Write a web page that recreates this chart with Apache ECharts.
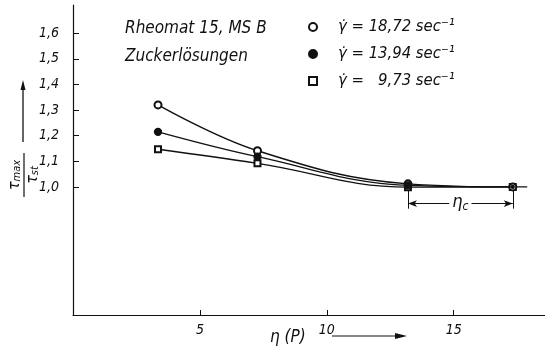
<!DOCTYPE html>
<html>
<head>
<meta charset="utf-8">
<script src="https://cdn.jsdelivr.net/npm/echarts@6/dist/echarts.min.js"></script>
<style>
    html, body { margin: 0; padding: 0; background: #fff; }
    #chart { width: 545px; height: 358px; }
</style>
</head>
<body>
<div id="chart"></div>
<script>
    // viscosity eta (P) of the measured sugar solutions
    const eta = [3.35, 7.27, 13.2, 17.33];
    // tau_max / tau_st for each shear rate
    const ratioHigh = [1.32, 1.141, 1.012, 1.0];   // 18,72 sec-1
    const ratioMid = [1.215, 1.118, 1.006, 1.0];   // 13,94 sec-1
    const ratioLow = [1.147, 1.092, 0.999, 1.0];   // 9,73 sec-1
    const curveTail = [[17.33, 1.0], [17.9, 1.0]];
    const shearRates = ['18,72', '13,94', '9,73'];
    const yTicks = [1.0, 1.1, 1.2, 1.3, 1.4, 1.5, 1.6];
    const xTicks = [5, 10, 15];
    const etaC = [13.2, 17.33];
    const etaCLevel = 0.935;

    const FONT = "'DejaVu Sans Condensed', 'Liberation Sans Narrow', sans-serif";
    const INK = '#111';

    let chart = echarts.init(document.getElementById('chart'));

    function curve(name, values, symbol, z, size) {
        return {
            name: name,
            type: 'line',
            data: eta.map((x, i) => [x, values[i]]),
            smooth: 0.4,
            symbol: symbol,
            symbolSize: size,
            z: z,
            lineStyle: {color: INK, width: 1.4},
            itemStyle: {color: INK, borderColor: INK, borderWidth: 1.3},
            emphasis: {disabled: true}
        };
    }

    let option = {
        backgroundColor: '#fff',
        animation: false,
        title: {
            left: 120,
            top: 10,
            text: 'Rheomat 15, MS B\nZuckerlösungen',
            textStyle: {
                fontFamily: FONT, fontStyle: 'italic', fontWeight: 'normal',
                fontSize: 17, lineHeight: 28, color: INK
            }
        },
        legend: {
            orient: 'vertical',
            left: 303,
            top: 13,
            itemWidth: 8,
            itemHeight: 8,
            itemGap: 9,
            data: [
                {name: shearRates[0], icon: 'emptyCircle'},
                {name: shearRates[1], icon: 'circle'},
                {name: shearRates[2], icon: 'emptyRect'}
            ],
            formatter: (name) => 'γ̇ = ' + (name.length < 5 ? '  ' : '') + name + ' sec⁻¹',
            textStyle: {fontFamily: FONT, fontStyle: 'italic', fontSize: 16.5, lineHeight: 18, color: INK, padding: [0, 0, 0, 16]}
        },
        grid: {left: 73, right: 0, top: 5, bottom: 43},
        xAxis: {
            type: 'value',
            min: 0,
            max: 18.6,
            splitLine: {show: false},
            axisLine: {lineStyle: {color: INK, width: 1.2}},
            axisTick: {inside: true, length: 5, customValues: xTicks, lineStyle: {color: INK}},
            axisLabel: {
                customValues: xTicks, margin: 8,
                fontFamily: FONT, fontStyle: 'italic', fontSize: 14, color: INK
            }
        },
        yAxis: {
            type: 'value',
            min: 0.5,
            max: 1.71,
            interval: 0.1,
            splitLine: {show: false},
            axisLine: {show: true, lineStyle: {color: INK, width: 1.2}},
            axisTick: {show: true, inside: true, length: 6, customValues: yTicks, lineStyle: {color: INK}},
            axisLabel: {
                customValues: yTicks, margin: 14,
                formatter: (v) => v.toFixed(1).replace('.', ','),
                fontFamily: FONT, fontStyle: 'italic', fontSize: 14, color: INK
            }
        },
        series: [
            curve(shearRates[2], ratioLow, 'emptyRect', 2, 6),
            curve(shearRates[0], ratioHigh, 'emptyCircle', 3, 7),
            Object.assign(curve(shearRates[1], ratioMid, 'circle', 4, 7), {
                symbolSize: (v, p) => p.dataIndex === eta.length - 1 ? 3 : 7
            }),
            {
                type: 'line',
                data: curveTail,
                symbol: 'none',
                lineStyle: {color: INK, width: 1.4},
                z: 1,
                markLine: {
                    silent: true,
                    symbol: ['arrow', 'arrow'],
                    symbolSize: [5, 9],
                    lineStyle: {color: INK, width: 1, type: 'solid'},
                    label: {show: false},
                    data: [
                        [
                            {
                                coord: [etaC[0], etaCLevel],
                                label: {
                                    show: true,
                                    position: 'middle',
                                    distance: -9,
                                    formatter: '{e|η}{c|c}',
                                    backgroundColor: '#fff',
                                    padding: [0, 3],
                                    rich: {
                                        e: {fontFamily: FONT, fontStyle: 'italic', fontSize: 18, color: INK},
                                        c: {fontFamily: FONT, fontStyle: 'italic', fontSize: 12, color: INK, padding: [8, 0, 0, 0]}
                                    }
                                }
                            },
                            {coord: [etaC[1], etaCLevel]}
                        ],
                        [{coord: [etaC[0], 0.985], symbol: 'none'}, {coord: [etaC[0], 0.915], symbol: 'none'}],
                        [{coord: [etaC[1], 0.985], symbol: 'none'}, {coord: [etaC[1], 0.915], symbol: 'none'}]
                    ]
                }
            }
        ],
        graphic: [
            // y axis title: tau_max / tau_st with arrow
            {
                type: 'group', x: 24, y: 175, rotation: Math.PI / 2,
                children: [
                    {
                        type: 'text', x: 0, y: -1,
                        style: {
                            text: '{t|τ}{s|max}', align: 'center', verticalAlign: 'bottom',
                            rich: {
                                t: {fontFamily: FONT, fontStyle: 'italic', fontSize: 16, fill: INK},
                                s: {fontFamily: FONT, fontStyle: 'italic', fontSize: 11, fill: INK, padding: [5, 0, 0, 0]}
                            }
                        }
                    },
                    {type: 'line', shape: {x1: -22, y1: 0, x2: 22, y2: 0}, style: {stroke: INK, lineWidth: 1.2}},
                    {
                        type: 'text', x: 0, y: 1,
                        style: {
                            text: '{t|τ}{s|st}', align: 'center', verticalAlign: 'top',
                            rich: {
                                t: {fontFamily: FONT, fontStyle: 'italic', fontSize: 16, fill: INK},
                                s: {fontFamily: FONT, fontStyle: 'italic', fontSize: 11, fill: INK, padding: [5, 0, 0, 0]}
                            }
                        }
                    }
                ]
            },
            {type: 'line', shape: {x1: 23, y1: 142, x2: 23, y2: 88}, style: {stroke: INK, lineWidth: 1.3}},
            {type: 'polygon', shape: {points: [[23, 80], [20.5, 90], [25.5, 90]]}, style: {fill: INK}},
            // x axis title with arrow
            {
                type: 'text', x: 270, y: 338,
                style: {text: 'η (P)', verticalAlign: 'middle', fontFamily: FONT, fontStyle: 'italic', fontSize: 17, fill: INK}
            },
            {type: 'line', shape: {x1: 332, y1: 336, x2: 398, y2: 336}, style: {stroke: INK, lineWidth: 1.2}},
            {type: 'polygon', shape: {points: [[407, 336], [395, 333], [395, 339]]}, style: {fill: INK}}
        ]
    };
    chart.setOption(option);
</script>
</body>
</html>
